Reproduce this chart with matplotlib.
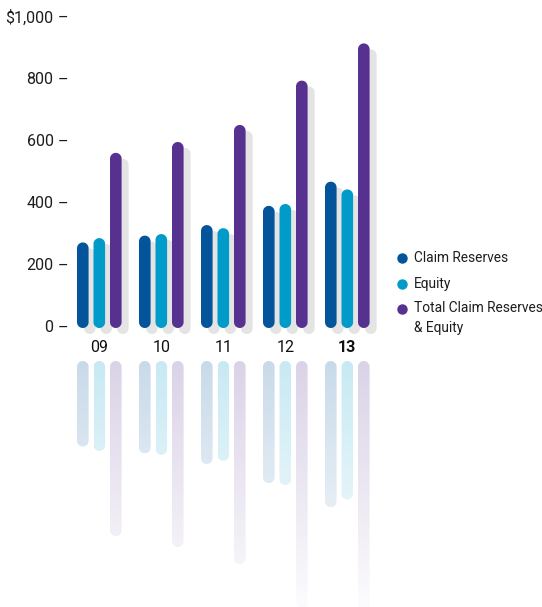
import numpy as np
import matplotlib
matplotlib.use("Agg")
import matplotlib.pyplot as plt
from matplotlib.path import Path
from matplotlib.patches import PathPatch
from matplotlib.colors import to_rgb

plt.rcParams['font.family'] = ['Roboto', 'DejaVu Sans']

# ---- data ----
years = ["09", "10", "11", "12", "13"]
claim_reserves = [276, 298, 332, 394, 472]
equity = [290, 303, 322, 400, 447]
total = [565, 600, 655, 798, 918]
series_names = ["Claim Reserves", "Equity", "Total Claim Reserves\n& Equity"]
y_ticks = [0, 200, 400, 600, 800, 1000]
y_tick_labels = ["0", "200", "400", "600", "800", "$1,000"]

colors = ["#04549b", "#009bc9", "#573190"]
shadow_color = "#e4e4e4"
text_color = "#1e1e1e"

# ---- layout (pixel based figure geometry) ----
W, H, DPI = 542, 607, 100
px_y = 0.31          # pixels per value unit
px_x = 62.0          # pixels per group step
zero_px = 328.0      # pixel row of the baseline from top
x0_px = 99.3         # pixel column of first group centre

fig = plt.figure(figsize=(W / DPI, H / DPI), dpi=DPI)
ax = fig.add_axes([0, 0, 1, 1])
ax.set_axis_off()

ytop = zero_px / px_y
ylim = (ytop - H / px_y, ytop)
xlim = (-x0_px / px_x, -x0_px / px_x + W / px_x)

rx = 5.8 / px_x       # bar half width in x units
ry = 5.8 / px_y       # cap radius in y units
offsets = np.array([-16.5, 0.0, 16.5]) / px_x
shadow_dx = 7.0 / px_x
shadow_dy = -6.0 / px_y
refl_gap = -33.0 / px_y   # reflection starts below baseline


def capsule(xc, y0, y1, n=24):
    """Closed path of a vertical bar with rounded ends between y0 < y1."""
    ry_eff = min(ry, (y1 - y0) / 2)
    t_top = np.linspace(0, np.pi, n)
    t_bot = np.linspace(np.pi, 2 * np.pi, n)
    top = np.column_stack([xc + rx * np.cos(t_top), (y1 - ry_eff) + ry_eff * np.sin(t_top)])
    bot = np.column_stack([xc + rx * np.cos(t_bot), (y0 + ry_eff) + ry_eff * np.sin(t_bot)])
    verts = np.vstack([top, bot, top[:1]])
    codes = [Path.MOVETO] + [Path.LINETO] * (len(verts) - 2) + [Path.CLOSEPOLY]
    return Path(verts, codes)


all_series = [claim_reserves, equity, total]

# shadows
for s_idx, vals in enumerate(all_series):
    for g, v in enumerate(vals):
        xc = g + offsets[s_idx] + shadow_dx
        ax.add_patch(PathPatch(capsule(xc, 0 + shadow_dy, v + shadow_dy),
                               facecolor=shadow_color, edgecolor="none", zorder=1))

# bars
for s_idx, vals in enumerate(all_series):
    for g, v in enumerate(vals):
        xc = g + offsets[s_idx]
        ax.add_patch(PathPatch(capsule(xc, 0, v), facecolor=colors[s_idx],
                               edgecolor="none", zorder=2))

# reflections with a vertical fade
a_top, a_bot = 0.22, 0.02
for s_idx, vals in enumerate(all_series):
    rgb = np.array(to_rgb(colors[s_idx]))
    for g, v in enumerate(vals):
        xc = g + offsets[s_idx]
        y_hi = refl_gap
        y_lo = refl_gap - v
        ys = np.linspace(y_hi, y_lo, 200)
        frac = (y_hi - ys) / (y_hi - ylim[0])
        alpha = a_top + (a_bot - a_top) * frac
        img = np.zeros((200, 1, 4))
        img[:, 0, :3] = rgb
        img[:, 0, 3] = alpha
        patch = PathPatch(capsule(xc, y_lo, y_hi), facecolor="none", edgecolor="none")
        ax.add_patch(patch)
        im = ax.imshow(img, extent=(xc - rx, xc + rx, y_lo, y_hi), origin="upper",
                       aspect="auto", interpolation="bilinear", zorder=1)
        im.set_clip_path(patch)

# y axis labels with dash tick marks
for val, lab in zip(y_ticks, y_tick_labels):
    ax.text(xlim[0] + 53.5 / px_x, val, lab, ha="right", va="center",
            fontsize=11.5, color=text_color)
    ax.text(xlim[0] + 57.5 / px_x, val, "–", ha="left", va="center",
            fontsize=11.5, color=text_color)

# x category labels
for g, lab in enumerate(years):
    ax.text(g, -19.0 / px_y, lab, ha="center", va="center",
            fontsize=11.5, color="#111111",
            fontweight="bold" if g == len(years) - 1 else "normal")

# legend
leg_x = xlim[0] + 402 / px_x
leg_y_px = [258, 284, 309]
for s_idx, name in enumerate(series_names):
    yv = (zero_px - leg_y_px[s_idx]) / px_y
    ax.plot([leg_x], [yv], "o", color=colors[s_idx], markersize=6.5, zorder=3)
    if "\n" in name:
        ax.text(leg_x + 12 / px_x, yv + 8.5 / px_y, name, ha="left", va="top",
                fontsize=9.9, color=text_color, linespacing=1.55)
    else:
        ax.text(leg_x + 12 / px_x, yv, name, ha="left", va="center",
                fontsize=9.9, color=text_color)

ax.set_xlim(*xlim)
ax.set_ylim(*ylim)
fig.savefig("out.png", dpi=DPI, facecolor="white")
